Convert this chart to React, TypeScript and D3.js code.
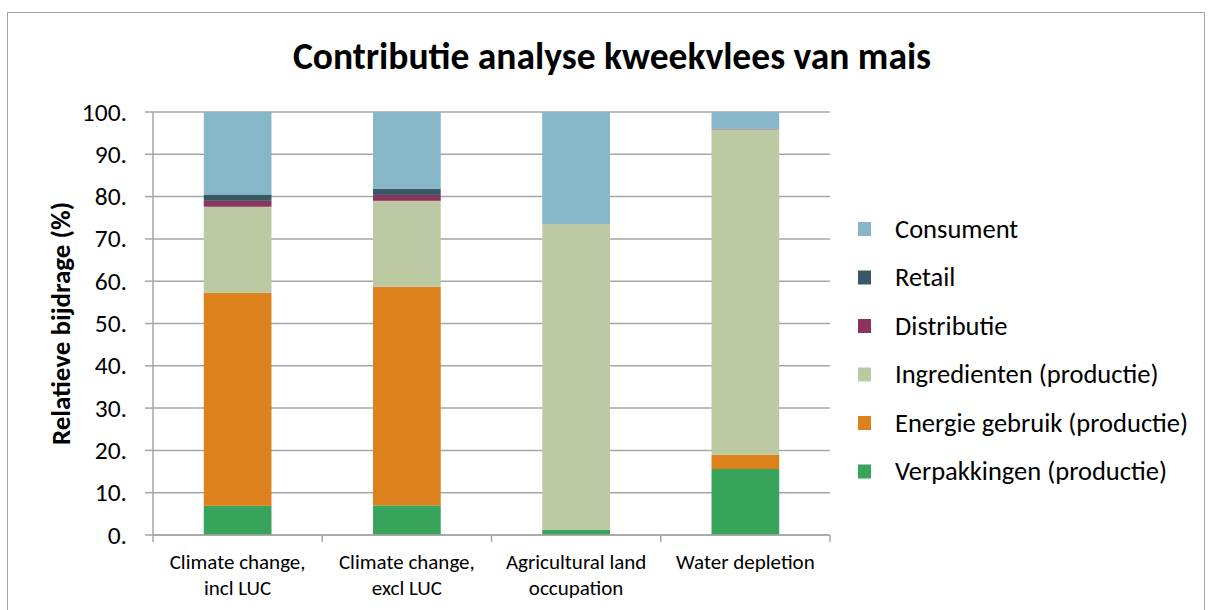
import React from "react";
import * as d3 from "d3";

const categories = [
  ["Climate change,", "incl LUC"],
  ["Climate change,", "excl LUC"],
  ["Agricultural land", "occupation"],
  ["Water depletion"],
];
const seriesNames = [
  "Verpakkingen (productie)",
  "Energie gebruik (productie)",
  "Ingredienten (productie)",
  "Distributie",
  "Retail",
  "Consument",
];
const seriesColors = ["#38a35a", "#dc811b", "#bdc9a3", "#8c3460", "#375865", "#86b7c9"];
const verpakkingen = [6.9, 7.0, 1.2, 15.6];
const energie = [50.3, 51.7, 0, 3.4];
const ingredienten = [20.4, 20.3, 72.3, 76.9];
const distributie = [1.4, 1.4, 0, 0.1];
const retail = [1.5, 1.5, 0, 0];
const consument = [19.5, 18.1, 26.5, 4.0];
const yTicks = [0, 10, 20, 30, 40, 50, 60, 70, 80, 90, 100];

const W = 1212;
const H = 610;
const plot = { left: 153, right: 830, top: 112, bottom: 535 };
const font = "Carlito, 'Liberation Sans', Arial, sans-serif";

export default function App() {
  const values = [verpakkingen, energie, ingredienten, distributie, retail, consument];
  const rows = categories.map((_, i) => {
    const r: Record<string, number> = { idx: i };
    seriesNames.forEach((s, k) => (r[s] = values[k][i]));
    return r;
  });
  const stack = d3.stack<Record<string, number>>().keys(seriesNames)(rows);

  const x = d3
    .scaleBand<number>()
    .domain(categories.map((_, i) => i))
    .range([plot.left, plot.right])
    .paddingInner(0.6)
    .paddingOuter(0.3);
  const y = d3.scaleLinear().domain([0, 100]).range([plot.bottom, plot.top]);
  const step = (plot.right - plot.left) / categories.length;

  const legendItems = [...seriesNames].reverse();
  const legendColors = [...seriesColors].reverse();

  return (
    <svg width={W} height={H} style={{ position: "absolute", left: 0, top: 0 }} fontFamily={font}>
      <rect x={0} y={0} width={W} height={H} fill="#fff" />
      <rect x={7.5} y={12.5} width={1197} height={620} fill="#fff" stroke="#a6a6a6" strokeWidth={1} />
      <text x={612} y={69} textAnchor="middle" fontSize={37.5} fontWeight="bold" fill="#000">
        Contributie analyse kweekvlees van mais
      </text>

      {/* gridlines */}
      {yTicks.map((t) => (
        <line key={t} x1={plot.left} x2={plot.right} y1={y(t)} y2={y(t)} stroke="#a6a6a6" strokeWidth={1.5} />
      ))}

      {/* stacked bars */}
      {stack.map((layer, k) => (
        <g key={layer.key} fill={seriesColors[k]}>
          {layer.map((d, i) =>
            d[1] - d[0] > 0 ? (
              <rect
                key={i}
                x={x(i)}
                width={x.bandwidth()}
                y={y(d[1])}
                height={y(d[0]) - y(d[1])}
              />
            ) : null
          )}
        </g>
      ))}

      {/* y axis */}
      <line x1={plot.left} x2={plot.left} y1={plot.top} y2={plot.bottom} stroke="#a6a6a6" strokeWidth={1.5} />
      {yTicks.map((t) => (
        <g key={t}>
          <line x1={plot.left - 8} x2={plot.left} y1={y(t)} y2={y(t)} stroke="#a6a6a6" strokeWidth={1.5} />
          <text x={127} y={y(t) + 8.5} textAnchor="end" fontSize={25.5} fill="#000">
            {t}.
          </text>
        </g>
      ))}

      {/* x axis */}
      <line x1={plot.left} x2={plot.right} y1={plot.bottom} y2={plot.bottom} stroke="#a6a6a6" strokeWidth={1.5} />
      {d3.range(categories.length + 1).map((i) => (
        <line
          key={i}
          x1={plot.left + i * step}
          x2={plot.left + i * step}
          y1={plot.bottom}
          y2={plot.bottom + 7}
          stroke="#a6a6a6"
          strokeWidth={1.5}
        />
      ))}
      {categories.map((lines, i) => (
        <text key={i} textAnchor="middle" fontSize={21} fill="#000">
          {lines.map((l, j) => (
            <tspan key={j} x={(x(i) ?? 0) + x.bandwidth() / 2} y={569 + j * 26}>
              {l}
            </tspan>
          ))}
        </text>
      ))}

      <text
        transform={`translate(70,${(plot.top + plot.bottom) / 2}) rotate(-90)`}
        textAnchor="middle"
        fontSize={27}
        fontWeight="bold"
        fill="#000"
      >
        Relatieve bijdrage (%)
      </text>

      {/* legend */}
      {legendItems.map((name, i) => (
        <g key={name} transform={`translate(858,${229 + i * 48.5})`}>
          <rect x={0} y={-7} width={13} height={14} fill={legendColors[i]} />
          <text x={37} y={8.5} fontSize={26.5} fill="#000">
            {name}
          </text>
        </g>
      ))}
    </svg>
  );
}
